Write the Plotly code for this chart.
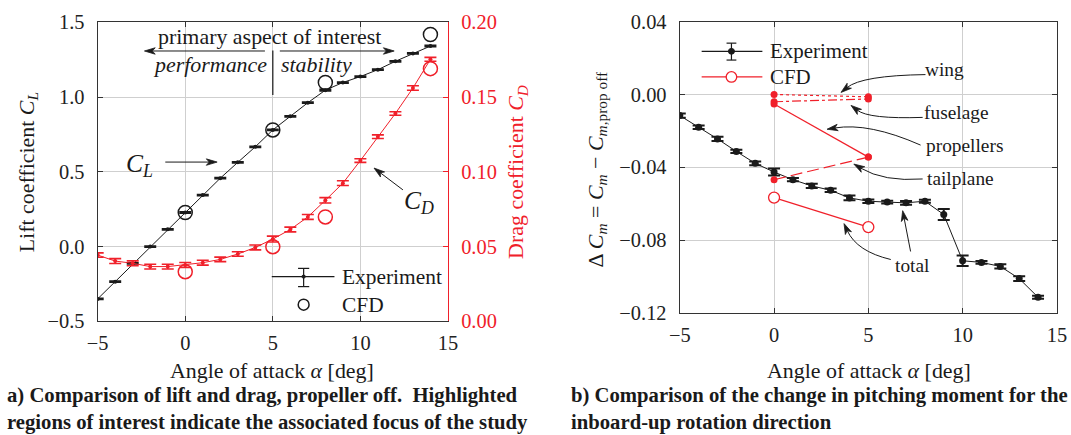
import math
import plotly.graph_objects as go

# ---------------- data ----------------
alpha_exp = [-5, -4, -3, -2, -1, 0, 1, 2, 3, 4, 5, 6, 7, 8, 9, 10, 11, 12, 13, 14]
CL_exp = [-0.350, -0.235, -0.113, 0.000, 0.115, 0.228, 0.344, 0.457, 0.563, 0.667,
          0.780, 0.871, 0.962, 1.046, 1.097, 1.137, 1.183, 1.239, 1.292, 1.341]
CL_err = [0.004, 0.004, 0.004, 0.004, 0.004, 0.005, 0.004, 0.004, 0.004, 0.004,
          0.004, 0.004, 0.004, 0.005, 0.004, 0.004, 0.004, 0.004, 0.004, 0.005]
CD_exp = [0.0443, 0.0403, 0.0388, 0.0366, 0.0366, 0.0377, 0.0392, 0.0414, 0.0450, 0.0494,
          0.0550, 0.0614, 0.0698, 0.0809, 0.0924, 0.1075, 0.1235, 0.1390, 0.1560, 0.1752]
CD_err = [0.0015, 0.0016, 0.0016, 0.0016, 0.0016, 0.0016, 0.0016, 0.0015, 0.0015, 0.0016,
          0.0020, 0.0016, 0.0016, 0.0018, 0.0016, 0.0012, 0.0012, 0.0012, 0.0015, 0.0013]

alpha_cfd = [0, 5, 8, 14]
CL_cfd = [0.228, 0.780, 1.097, 1.418]
CD_cfd = [0.0332, 0.0499, 0.0698, 0.169]

dCm_exp = [-0.0116, -0.0180, -0.0244, -0.0313, -0.0378, -0.0426, -0.0468, -0.0502, -0.0526, -0.0568,
           -0.0586, -0.0591, -0.0595, -0.0586, -0.0659, -0.0913, -0.0922, -0.0944, -0.1011, -0.1113]
dCm_err = [0.0012, 0.0010, 0.0012, 0.0009, 0.0010, 0.0019, 0.0009, 0.0012, 0.0010, 0.0013,
           0.0010, 0.0008, 0.0010, 0.0008, 0.0030, 0.0029, 0.0008, 0.0012, 0.0013, 0.0008]

alpha_comp = [0, 5]
dCm_wing = [0.0000, -0.0013]
dCm_fuselage = [-0.0040, -0.0025]
dCm_propellers = [-0.0053, -0.0344]
dCm_tailplane = [-0.0468, -0.0344]
dCm_total = [-0.0566, -0.0728]

# ---------------- style ----------------
FONT = "Liberation Serif, Times New Roman, serif"
RED = "#f0202a"
BLK = "#1a1a1a"
AXC = "#333333"
GRID = "#cfcfcf"

# page geometry (body keeps its 8 px margin; captured page is rescaled to the window)
OFF = 8
SX, SY = 1087 / 1071, 455 / 435
W, H = 1071, 438
FS = 1.02  # font scale


def fx(xr):   # target window x -> figure px
    return xr * SX - OFF


def fy(yr):
    return yr * SY - OFF


def px(xr):
    return fx(xr) / W


def py(yr):
    return 1 - fy(yr) / H


XL_DOM = [px(95), px(447)]
YL_DOM = [py(320), py(19)]
XR_DOM = [px(680), px(1059)]
YR_DOM = [py(311.7), py(18.3)]
XRANGE = [-5, 15]
YL_RANGE = [-0.5, 1.5]
YD_RANGE = [0.0, 0.2]
YR_RANGE = [-0.12, 0.04]

SCALE = {
    ("x", "y"): (W * (XL_DOM[1] - XL_DOM[0]) / (XRANGE[1] - XRANGE[0]),
                 H * (YL_DOM[1] - YL_DOM[0]) / (YL_RANGE[1] - YL_RANGE[0])),
    ("x2", "y3"): (W * (XR_DOM[1] - XR_DOM[0]) / (XRANGE[1] - XRANGE[0]),
                   H * (YR_DOM[1] - YR_DOM[0]) / (YR_RANGE[1] - YR_RANGE[0])),
}

fig = go.Figure()

# ---- left panel ----
fig.add_trace(go.Scatter(x=alpha_exp, y=CD_exp, xaxis="x", yaxis="y2", mode="lines+markers",
                         line=dict(color=RED, width=1), marker=dict(color=RED, size=4),
                         error_y=dict(type="data", array=CD_err, color=RED, thickness=1.6, width=6),
                         showlegend=False))
fig.add_trace(go.Scatter(x=alpha_cfd, y=CD_cfd, xaxis="x", yaxis="y2", mode="markers",
                         marker=dict(symbol="circle-open", color=RED, size=14, line=dict(width=1.5)),
                         showlegend=False))
fig.add_trace(go.Scatter(x=alpha_exp, y=CL_exp, xaxis="x", yaxis="y", mode="lines+markers",
                         line=dict(color=BLK, width=1), marker=dict(color=BLK, size=4),
                         error_y=dict(type="data", array=CL_err, color=BLK, thickness=1.6, width=6),
                         showlegend=False))
fig.add_trace(go.Scatter(x=alpha_cfd, y=CL_cfd, xaxis="x", yaxis="y", mode="markers",
                         marker=dict(symbol="circle-open", color=BLK, size=14, line=dict(width=1.5)),
                         showlegend=False))

# ---- right panel ----
fig.add_trace(go.Scatter(x=alpha_exp, y=dCm_exp, xaxis="x2", yaxis="y3", mode="lines+markers",
                         line=dict(color=BLK, width=1), marker=dict(color=BLK, size=7),
                         error_y=dict(type="data", array=dCm_err, color=BLK, thickness=2, width=6),
                         showlegend=False))
for vals, dash in [(dCm_wing, "dot"), (dCm_fuselage, "dashdot"),
                   (dCm_propellers, "solid"), (dCm_tailplane, "12px,5px")]:
    fig.add_trace(go.Scatter(x=alpha_comp, y=vals, xaxis="x2", yaxis="y3", mode="lines+markers",
                             line=dict(color=RED, width=1.2, dash=dash),
                             marker=dict(color=RED, size=7), showlegend=False))
fig.add_trace(go.Scatter(x=alpha_comp, y=dCm_total, xaxis="x2", yaxis="y3", mode="lines+markers",
                         line=dict(color=RED, width=1.2),
                         marker=dict(symbol="circle", color="white", size=11,
                                     line=dict(color=RED, width=1.3)),
                         showlegend=False))

TICK = 20 * FS
tickfont = dict(family=FONT, size=TICK, color="#222")
common_x = dict(range=XRANGE, dtick=5, tick0=0, showgrid=True, gridcolor=GRID, gridwidth=1,
                zeroline=False, showline=True, linecolor=AXC, linewidth=1.3, mirror="ticks",
                ticks="inside", ticklen=5, tickcolor=AXC, tickfont=tickfont,
                ticklabelstandoff=3)

fig.update_layout(
    width=W, height=H, margin=dict(l=0, r=0, t=0, b=0),
    paper_bgcolor="white", plot_bgcolor="white", showlegend=False,
    font=dict(family=FONT, color=BLK),
    xaxis=dict(domain=XL_DOM, anchor="y", **common_x),
    yaxis=dict(domain=YL_DOM, anchor="x", range=YL_RANGE, dtick=0.5, tick0=0, tickformat=".1f",
               showgrid=True, gridcolor=GRID, zeroline=False, showline=True, linecolor=AXC,
               linewidth=1.3, ticks="inside", ticklen=5, tickcolor=AXC, tickfont=tickfont,
               ticklabelstandoff=8),
    yaxis2=dict(overlaying="y", side="right", anchor="x", range=YD_RANGE, dtick=0.05, tick0=0,
                tickformat=".2f", showgrid=False, zeroline=False, showline=True, linecolor=RED,
                linewidth=1.3, ticks="inside", ticklen=5, tickcolor=RED,
                tickfont=dict(family=FONT, size=TICK, color=RED), ticklabelstandoff=8),
    xaxis2=dict(domain=XR_DOM, anchor="y3", **common_x),
    yaxis3=dict(domain=YR_DOM, anchor="x2", range=YR_RANGE, dtick=0.04, tick0=0, tickformat=".2f",
                showgrid=True, gridcolor=GRID, zeroline=False, showline=True, linecolor=AXC,
                linewidth=1.3, mirror="ticks", ticks="inside", ticklen=5, tickcolor=AXC,
                tickfont=tickfont, ticklabelstandoff=8),
)

ann = []
shapes = []


def text(x, y, s, size=21, xref="x", yref="y", color=BLK, xanchor="center", angle=0,
         align="center", pad=1):
    ann.append(dict(x=x, y=y, xref=xref, yref=yref, text=s, showarrow=False, textangle=angle,
                    xanchor=xanchor, yanchor="middle", align=align, borderpad=pad,
                    font=dict(family=FONT, size=size * FS, color=color)))


def head(tip, ux, uy, xref, yref, L=11.0, hw=3.4, notch=8.0):
    """Filled arrow head at tip; (ux, uy) is unit direction in screen px (y down)."""
    kx, ky = SCALE[(xref, yref)]
    tx, ty = tip
    nx, ny = -uy, ux

    def pt(dxp, dyp):
        return f"{tx + dxp / kx},{ty - dyp / ky}"

    p1 = pt(-L * ux + hw * nx, -L * uy + hw * ny)
    p2 = pt(-notch * ux, -notch * uy)
    p3 = pt(-L * ux - hw * nx, -L * uy - hw * ny)
    shapes.append(dict(type="path", xref=xref, yref=yref,
                       path=f"M {tx},{ty} L {p1} L {p2} L {p3} Z",
                       fillcolor=BLK, line=dict(color=BLK, width=0.8)))
    return (tx - notch * ux / kx, ty + notch * uy / ky)


def direction(frm, to, xref, yref):
    kx, ky = SCALE[(xref, yref)]
    dx = (to[0] - frm[0]) * kx
    dy = -(to[1] - frm[1]) * ky
    n = math.hypot(dx, dy)
    return dx / n, dy / n


def straight_arrow(x0, y0, x1, y1, xref="x", yref="y"):
    ux, uy = direction((x0, y0), (x1, y1), xref, yref)
    bx, by = head((x1, y1), ux, uy, xref, yref)
    shapes.append(dict(type="line", xref=xref, yref=yref, x0=x0, y0=y0, x1=bx, y1=by,
                       line=dict(color=BLK, width=1)))


def curved_arrow(start, ctrl, tip, xref, yref):
    ux, uy = direction(ctrl, tip, xref, yref)
    bx, by = head(tip, ux, uy, xref, yref)
    sx, sy = start
    cx, cy = ctrl
    shapes.append(dict(type="path", xref=xref, yref=yref,
                       path=f"M {sx},{sy} Q {cx},{cy} {bx},{by}",
                       line=dict(color=BLK, width=1)))


# ---- left panel annotations ----
text(4.83, 1.403, "primary aspect of interest", size=21.5)
straight_arrow(4.55, 1.308, -2.33, 1.308)
straight_arrow(5.40, 1.308, 11.93, 1.308)
shapes.append(dict(type="line", xref="x", yref="y", x0=5, x1=5, y0=1.312, y1=1.013,
                   line=dict(color=BLK, width=1.2)))
text(1.42, 1.217, "<i>performance</i>", size=21.5)
text(7.50, 1.217, "<i>stability</i>", size=21.5)
text(-2.61, 0.545, "<i>C</i><sub><i>L</i></sub>", size=25)
straight_arrow(-1.14, 0.565, 1.82, 0.565)
text(13.35, 0.300, "<i>C</i><sub><i>D</i></sub>", size=25)
straight_arrow(12.43, 0.379, 10.78, 0.525)

# left legend (drawn in axis-domain coordinates)
shapes.append(dict(type="line", xref="x domain", yref="y domain", x0=0.497, x1=0.676,
                   y0=0.1495, y1=0.1495, line=dict(color=BLK, width=1.2)))
shapes.append(dict(type="line", xref="x domain", yref="y domain", x0=0.588, x1=0.588,
                   y0=0.116, y1=0.177, line=dict(color=BLK, width=1.2)))
for yy in (0.116, 0.177):
    shapes.append(dict(type="line", xref="x domain", yref="y domain", x0=0.572, x1=0.604,
                       y0=yy, y1=yy, line=dict(color=BLK, width=1.2)))
shapes.append(dict(type="circle", xref="x domain", yref="y domain", x0=0.583, x1=0.593,
                   y0=0.1445, y1=0.1545, fillcolor=BLK, line=dict(color=BLK, width=1)))
shapes.append(dict(type="circle", xref="x domain", yref="y domain", x0=0.5725, x1=0.6035,
                   y0=0.0372, y1=0.0738, line=dict(color=BLK, width=1.5)))
text(0.693, 0.1495, "Experiment", size=21, xref="x domain", yref="y domain", xanchor="left")
text(0.693, 0.0555, "CFD", size=21, xref="x domain", yref="y domain", xanchor="left")

# ---- right panel annotations ----
XR, YR = "x2", "y3"
text(9.04, 0.0136, "wing", size=19, xref=XR, yref=YR)
curved_arrow((8.03, 0.0109), (4.66, 0.0104), (3.55, 0.0011), XR, YR)
text(9.67, -0.0098, "fuselage", size=19, xref=XR, yref=YR)
curved_arrow((7.88, -0.0126), (5.03, -0.0136), (4.08, -0.0060), XR, YR)
text(10.09, -0.0278, "propellers", size=19, xref=XR, yref=YR)
curved_arrow((7.77, -0.0278), (5.03, -0.0153), (2.81, -0.0191), XR, YR)
text(9.88, -0.0464, "tailplane", size=19, xref=XR, yref=YR)
curved_arrow((7.88, -0.0464), (5.82, -0.0480), (4.23, -0.0382), XR, YR)
text(7.30, -0.0939, "total", size=19, xref=XR, yref=YR)
curved_arrow((6.19, -0.0906), (4.39, -0.0862), (3.71, -0.0709), XR, YR)
straight_arrow(7.24, -0.0862, 6.82, -0.0638, xref=XR, yref=YR)

# right legend
shapes.append(dict(type="line", xref="x2 domain", yref="y3 domain", x0=0.058, x1=0.219,
                   y0=0.898, y1=0.898, line=dict(color=BLK, width=1.2)))
shapes.append(dict(type="line", xref="x2 domain", yref="y3 domain", x0=0.137, x1=0.137,
                   y0=0.868, y1=0.926, line=dict(color=BLK, width=1.2)))
for yy in (0.868, 0.926):
    shapes.append(dict(type="line", xref="x2 domain", yref="y3 domain", x0=0.124, x1=0.150,
                       y0=yy, y1=yy, line=dict(color=BLK, width=1.2)))
shapes.append(dict(type="circle", xref="x2 domain", yref="y3 domain", x0=0.129, x1=0.145,
                   y0=0.888, y1=0.908, fillcolor=BLK, line=dict(color=BLK, width=1)))
shapes.append(dict(type="line", xref="x2 domain", yref="y3 domain", x0=0.058, x1=0.219,
                   y0=0.810, y1=0.810, line=dict(color=RED, width=1.2)))
shapes.append(dict(type="circle", xref="x2 domain", yref="y3 domain", x0=0.123, x1=0.151,
                   y0=0.792, y1=0.828, fillcolor="white", line=dict(color=RED, width=1.3)))
text(0.235, 0.898, "Experiment", size=20.5, xref="x2 domain", yref="y3 domain", xanchor="left")
text(0.235, 0.810, "CFD", size=20.5, xref="x2 domain", yref="y3 domain", xanchor="left")

# ---- axis titles ----
text(px(270), py(370), "Angle of attack <i>α</i> [deg]", size=21.5, xref="paper", yref="paper",
     pad=0)
text(px(870), py(370), "Angle of attack <i>α</i> [deg]", size=21.5, xref="paper", yref="paper",
     pad=0)
text(px(25), py(170), "Lift coefficient <i>C</i><sub><i>L</i></sub>", size=21.5,
     xref="paper", yref="paper", angle=-90)
text(px(517), py(170), "Drag coefficient <i>C</i><sub><i>D</i></sub>", size=21.5,
     xref="paper", yref="paper", angle=-90, color=RED)
text(px(597), py(167),
     "Δ <i>C</i><sub><i>m</i></sub> = <i>C</i><sub><i>m</i></sub> − <i>C</i><sub><i>m</i>,prop off</sub>",
     size=21.5, xref="paper", yref="paper", angle=-90)

# ---- captions (two lines each, one text block) ----
caption_a = ("<b>a) Comparison of lift and drag, propeller off.  Highlighted<br>"
             "regions of interest indicate the associated focus of the study</b>")
caption_b = ("<b>b) Comparison of the change in pitching moment for the<br>"
             "inboard-up rotation direction</b>")
text(-5 / W, py(408), caption_a, size=20.3, xref="paper", yref="paper", xanchor="left",
     align="left", pad=0)
text(px(570), py(408), caption_b, size=20.3, xref="paper", yref="paper", xanchor="left",
     align="left", pad=0)

fig.update_layout(annotations=ann, shapes=shapes)
fig.write_html("out.html")
